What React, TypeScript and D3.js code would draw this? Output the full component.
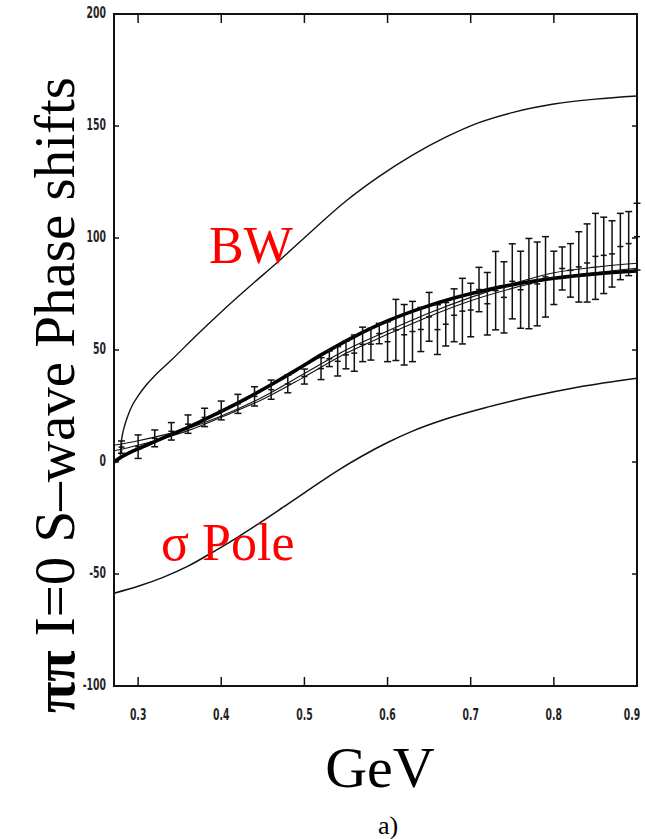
import React from "react";
import * as d3 from "d3";

// ---- data ----
const xTicks = [0.3, 0.4, 0.5, 0.6, 0.7, 0.8, 0.9];
const xTickLabels = ["0.3", "0.4", "0.5", "0.6", "0.7", "0.8", "0.9"];
const yTicks = [-100, -50, 0, 50, 100, 150, 200];
const yTickLabels = ["-100", "-50", "0", "50", "100", "150", "200"];

// Breit-Wigner curve
const bwX = [0.2785, 0.2795, 0.281, 0.284, 0.288, 0.294, 0.3, 0.31, 0.32, 0.34, 0.37, 0.4, 0.43, 0.47, 0.51, 0.55, 0.59, 0.63, 0.67, 0.71, 0.75, 0.8, 0.85, 0.9];
const bwY = [3, 8, 12, 16.5, 21, 26, 29.5, 34.5, 38.5, 45.5, 56.5, 67, 77, 90, 103.5, 116.5, 127.5, 137, 145, 151.5, 156, 159.8, 162, 163.4];

// sigma pole curve
const poleX = [0.271, 0.3, 0.33, 0.36, 0.39, 0.42, 0.45, 0.48, 0.51, 0.54, 0.57, 0.6, 0.63, 0.67, 0.72, 0.77, 0.83, 0.9];
const poleY = [-58.6, -55.5, -51.5, -46.5, -40.2, -33.5, -26.3, -18.8, -11.2, -3.8, 2.8, 8.7, 13.8, 19.2, 24.5, 29, 33.5, 37.4];

// thick fit curve
const fitX = [0.271, 0.28, 0.29, 0.3, 0.32, 0.34, 0.36, 0.38, 0.4, 0.43, 0.46, 0.49, 0.52, 0.56, 0.6, 0.64, 0.68, 0.72, 0.76, 0.8, 0.85, 0.9];
const fitY = [0, 2.3, 4.2, 5.9, 9.1, 12.3, 15.5, 19, 22.6, 28.3, 34.5, 41, 47.8, 56, 63, 68.6, 73.2, 76.9, 79.8, 82, 84, 85.3];

// thin fit curves
const thinX = [0.271, 0.3, 0.33, 0.36, 0.4, 0.45, 0.5, 0.55, 0.6, 0.65, 0.7, 0.75, 0.8, 0.85, 0.9];
const thinAY = [7.5, 9.5, 12, 15, 20.5, 29, 39.5, 50, 58.5, 66.5, 73.5, 79.5, 84.5, 87, 88.7];
const thinBY = [5, 7.5, 10.5, 14, 20, 28, 38, 48.5, 57, 65, 72, 77.5, 82, 84.5, 86.5];

// data points with error bars (upper / lower ends)
const ptX = [0.28, 0.3, 0.32, 0.34, 0.36, 0.38, 0.4, 0.42, 0.44, 0.46, 0.48, 0.5, 0.52, 0.53, 0.54, 0.55, 0.56, 0.57, 0.58, 0.59, 0.6, 0.61, 0.62, 0.63, 0.64, 0.65, 0.66, 0.67, 0.68, 0.69, 0.7, 0.71, 0.72, 0.73, 0.74, 0.75, 0.76, 0.77, 0.78, 0.79, 0.8, 0.81, 0.82, 0.83, 0.84, 0.85, 0.86, 0.87, 0.88, 0.89, 0.9];
const ptHi = [9.4, 12.1, 14.3, 17.6, 21.0, 24.0, 27.2, 30.2, 33.6, 36.6, 38.8, 41.5, 46.6, 49.6, 51.5, 54.0, 56.7, 60.2, 59.7, 61.9, 62.6, 72.6, 70.3, 71.7, 69.0, 75.7, 70.2, 71.2, 77.3, 82.0, 79.8, 86.9, 84.6, 94.0, 89.4, 97.4, 94.1, 99.8, 98.2, 100.6, 94.1, 96.0, 97.5, 102.8, 106.3, 111.0, 109.3, 107.7, 111.0, 111.8, 115.5];
const ptLo = [3.9, 1.6, 6.8, 9.8, 12.8, 15.8, 18.8, 21.7, 25.0, 28.0, 30.9, 34.8, 36.8, 42.6, 38.4, 41.6, 40.5, 44.8, 45.5, 52.8, 44.8, 45.3, 43.3, 44.8, 49.3, 53.9, 48.0, 51.8, 53.7, 52.7, 55.9, 67.1, 56.7, 59.0, 57.6, 63.9, 59.7, 59.5, 60.8, 64.7, 70.3, 76.8, 73.6, 71.4, 71.4, 72.6, 75.2, 78.1, 81.4, 83.2, 85.7];

const W = 645;
const H = 839;

export default function App() {
  const x = d3.scaleLinear().domain([0.271, 0.9]).range([114, 637]);
  const y = d3.scaleLinear().domain([-100, 200]).range([686, 14]);
  const [x0, x1] = x.range();
  const [y0, y1] = y.range();

  const line = d3
    .line<[number, number]>()
    .x((d) => x(d[0]))
    .y((d) => y(d[1]))
    .curve(d3.curveMonotoneX);

  const zip = (xs: number[], ys: number[]) => xs.map((v, i) => [v, ys[i]] as [number, number]);

  const tickFont = "'DejaVu Sans', sans-serif";
  const serif = "'Liberation Serif', 'Times New Roman', serif";

  return (
    <svg
      width={W}
      height={H}
      style={{ position: "absolute", left: 0, top: 0, background: "#fff" }}
    >
      <rect x={0} y={0} width={W} height={H} fill="#fff" />

      {/* curves */}
      <path d={line(zip(bwX, bwY)) || ""} fill="none" stroke="#111" strokeWidth={1.4} />
      <path d={line(zip(poleX, poleY)) || ""} fill="none" stroke="#111" strokeWidth={1.5} />
      <path d={line(zip(thinX, thinAY)) || ""} fill="none" stroke="#111" strokeWidth={1.1} />
      <path d={line(zip(thinX, thinBY)) || ""} fill="none" stroke="#111" strokeWidth={1.1} />
      <path d={line(zip(fitX, fitY)) || ""} fill="none" stroke="#000" strokeWidth={3.6} />

      {/* error bars */}
      <g stroke="#111" strokeWidth={1.5}>
        {ptX.map((v, i) => {
          const cx = x(v);
          const yt = y(ptHi[i]);
          const yb = y(ptLo[i]);
          const ym = y((ptHi[i] + ptLo[i]) / 2);
          return (
            <g key={i}>
              <line x1={cx} x2={cx} y1={yt} y2={yb} />
              <line x1={cx - 3.5} x2={cx + 3.5} y1={yt} y2={yt} />
              <line x1={cx - 3.5} x2={cx + 3.5} y1={yb} y2={yb} />
              <line x1={cx - 3} x2={cx + 3} y1={ym} y2={ym} />
            </g>
          );
        })}
      </g>

      {/* frame */}
      <rect x={x0} y={y1} width={x1 - x0} height={y0 - y1} fill="none" stroke="#111" strokeWidth={2} />

      {/* ticks */}
      <g stroke="#111" strokeWidth={1.5}>
        {xTicks.map((t, i) => (
          <g key={"xt" + i}>
            <line x1={x(t)} x2={x(t)} y1={y0} y2={y0 - 9} />
            <line x1={x(t)} x2={x(t)} y1={y1} y2={y1 + 9} />
          </g>
        ))}
        {yTicks.map((t, i) => (
          <g key={"yt" + i}>
            <line x1={x0} x2={x0 + 5} y1={y(t)} y2={y(t)} />
            <line x1={x1} x2={x1 - 5} y1={y(t)} y2={y(t)} />
          </g>
        ))}
      </g>

      {/* tick labels */}
      <g fill="#222" fontFamily={tickFont} fontWeight="bold" fontSize={15}>
        {xTicks.map((t, i) => (
          <g key={"xl" + i} transform={`translate(${Math.min(x(t), 632)},${y0 + 30}) scale(0.62,1)`}>
            <text textAnchor="middle" dominantBaseline="middle">
              {xTickLabels[i]}
            </text>
          </g>
        ))}
        {yTicks.map((t, i) => (
          <g key={"yl" + i} transform={`translate(${x0 - 8},${y(t)}) scale(0.62,1)`}>
            <text textAnchor="end" dominantBaseline="middle">
              {yTickLabels[i]}
            </text>
          </g>
        ))}
      </g>

      {/* red annotations */}
      <text x={209} y={263} fill="#ff0000" fontFamily={serif} fontSize={52}>
        BW
      </text>
      <text x={161} y={560} fill="#ff0000" fontFamily={serif} fontSize={52}>
        σ Pole
      </text>

      {/* axis titles */}
      <text
        transform={`translate(74,395) rotate(-90)`}
        textAnchor="middle"
        fontFamily={serif}
        fontSize={57}
        fill="#000"
      >
        <tspan fontWeight="bold">ππ</tspan> I=0 S–wave Phase shifts
      </text>
      <text x={380} y={787} textAnchor="middle" fontFamily={serif} fontSize={58} fill="#000">
        GeV
      </text>
      <text x={388} y={834} textAnchor="middle" fontFamily={serif} fontSize={26} fill="#000">
        a)
      </text>
    </svg>
  );
}
